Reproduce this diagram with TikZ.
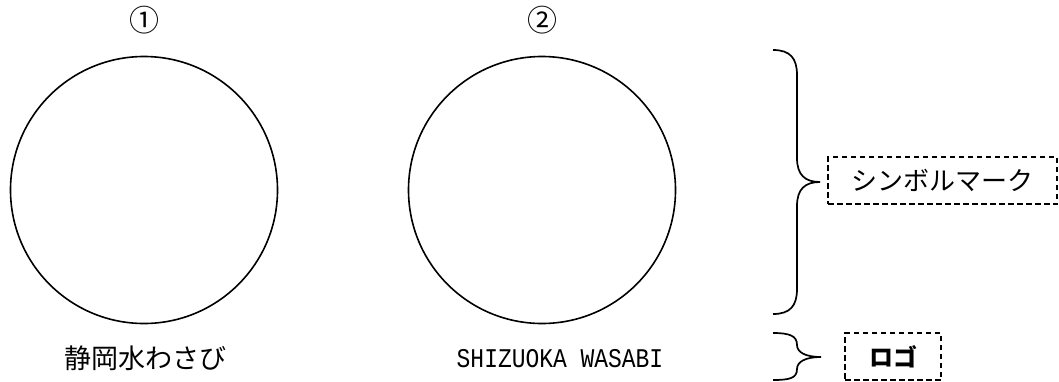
\documentclass[tikz,border=0pt]{standalone}
\usepackage{fontspec}
\newfontfamily\cjk{Noto Sans CJK JP}
\newfontfamily\mono{Liberation Mono}
\begin{document}
\begin{tikzpicture}[x=1pt,y=-1pt,
  ring/.style={draw, line width=1.6pt, circle, minimum size=267pt, inner sep=0pt},
  num/.style={font=\cjk\fontsize{30}{32}\selectfont, inner sep=0pt},
  jp/.style={font=\cjk\fontsize{27}{30}\selectfont, inner sep=0pt},
  en/.style={font=\mono\fontsize{27}{30}\selectfont, xscale=0.85, transform shape, inner sep=0pt},
  dbox/.style={draw, line width=1.5pt, dash pattern=on 5.5pt off 3.5pt, inner sep=0pt, font=\cjk\fontsize{26}{28}\selectfont},
  bracestyle/.style={draw, line width=1.7pt}]
\useasboundingbox (0,0) rectangle (1059,381);
\node[num] (n1) at (144,20) {①};
\node[num] (n2) at (542,20) {②};
\node[ring] (c1) at (144,190) {};
\node[ring] (c2) at (542,190) {};
\node[jp] (t1) at (145,358) {静岡水わさび};
\node[en] (t2) at (560,359) {SHIZUOKA WASABI};
\node[dbox, minimum width=229pt, minimum height=47pt] (b1) at (942.5,180.5) {シンボルマーク};
\node[dbox, minimum width=96pt, minimum height=47pt, font=\cjk\bfseries\fontsize{24}{26}\selectfont] (b2) at (893,356.5) {ロゴ};
\coordinate (tip1) at (820,182);
\coordinate (tip2) at (821,357);
\path[bracestyle] (773,50) .. controls (790,50) and (797,58) .. (797,75) -- (797,158)
  .. controls (797,175) and (805,182) .. (tip1)
  .. controls (805,182) and (797,189) .. (797,206) -- (797,289)
  .. controls (797,306) and (790,314) .. (773,314);
\path[bracestyle] (773,333) .. controls (790,333) and (797,336) .. (797,345)
  .. controls (797,352) and (805,357) .. (tip2)
  .. controls (805,357) and (797,362) .. (797,369)
  .. controls (797,378) and (790,380) .. (773,380);
\end{tikzpicture}
\end{document}
